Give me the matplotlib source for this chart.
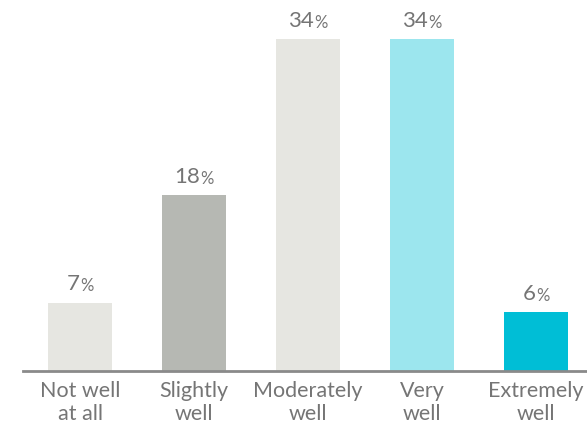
import matplotlib
matplotlib.use("Agg")
import matplotlib.pyplot as plt

categories = ["Not well\nat all", "Slightly\nwell", "Moderately\nwell", "Very\nwell", "Extremely\nwell"]
values = [7, 18, 34, 34, 6]
colors = ["#e6e6e1", "#b6b8b3", "#e6e6e1", "#9ce6ee", "#00bed6"]

text_color = "#757575"
plt.rcParams["font.family"] = ["Lato", "DejaVu Sans"]

fig = plt.figure(figsize=(5.87, 4.28), dpi=100)
W, H = 587, 428
ax = fig.add_axes([23 / W, (H - 371) / H, (587 - 23) / W, 371 / H])

x = list(range(len(values)))
ax.bar(x, values, width=0.56, color=colors, zorder=2)
ax.set_xlim(-0.5, 4.447)
ax.set_ylim(0, 38.0)

for s in ["top", "right", "left"]:
    ax.spines[s].set_visible(False)
ax.spines["bottom"].set_color("#8a8a8a")
ax.spines["bottom"].set_linewidth(2)
ax.set_yticks([])
ax.set_xticks(x)
ax.set_xticklabels(categories, fontsize=15.5, color=text_color, linespacing=1.22)
ax.tick_params(axis="x", length=0, pad=7)

# value labels: number plus a smaller percent sign, centred over each bar
fig.canvas.draw()
renderer = fig.canvas.get_renderer()
for xi, v in zip(x, values):
    num = ax.annotate(str(v), (xi, v), xytext=(0, 6), textcoords="offset points",
                      ha="left", va="bottom", fontsize=16, color=text_color)
    pct = ax.annotate("%", (xi, v), xytext=(0, 6), textcoords="offset points",
                      ha="left", va="bottom", fontsize=12, color=text_color)
    wn = num.get_window_extent(renderer).width
    wp = pct.get_window_extent(renderer).width
    total = (wn + wp) * 72 / fig.dpi
    num.set_position((-total / 2, 6))
    pct.set_position((-total / 2 + wn * 72 / fig.dpi, 6))

fig.savefig("out.png", dpi=100)
